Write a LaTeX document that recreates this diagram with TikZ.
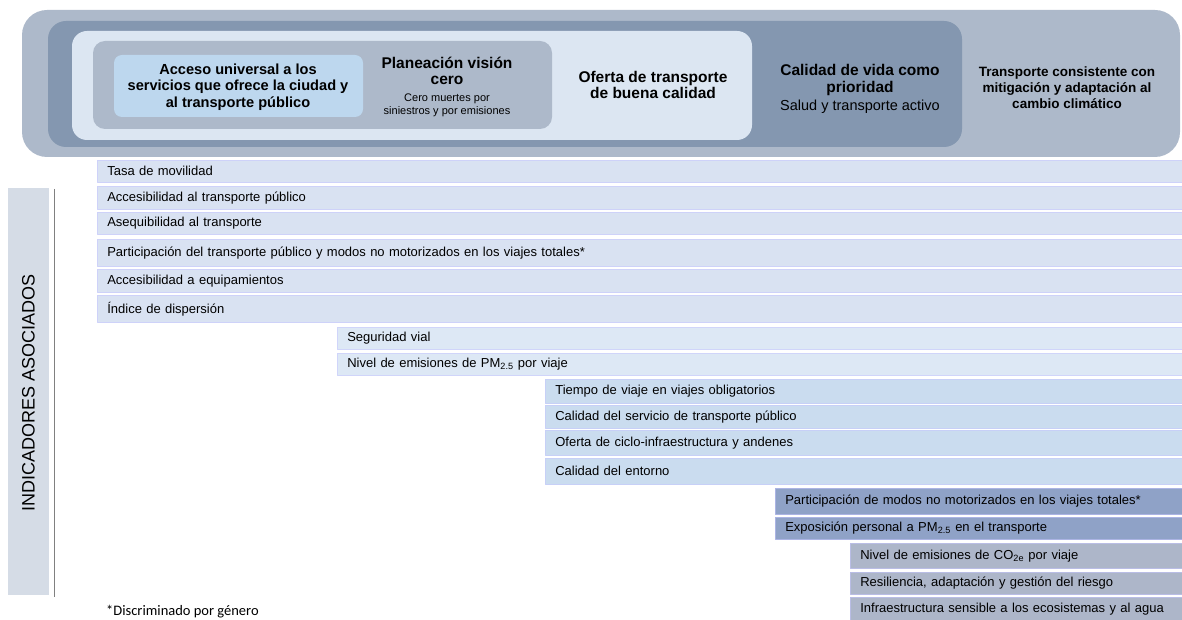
\documentclass[tikz,border=0pt]{standalone}
\usepackage{fontspec}
\setmainfont{Liberation Sans}
\newfontfamily\notefont{Carlito}
\usetikzlibrary{positioning}
\definecolor{outerbox}{HTML}{ADB9CA}
\definecolor{ringdark}{HTML}{8497B0}
\definecolor{ringlight}{HTML}{DCE6F2}
\definecolor{ringgrey}{HTML}{ADB9CA}
\definecolor{corebox}{HTML}{BDD7EE}
\definecolor{barA}{HTML}{D9E2F2}
\definecolor{barB}{HTML}{DDE8F5}
\definecolor{barC}{HTML}{CADCEF}
\definecolor{barD}{HTML}{8FA2C7}
\definecolor{barE}{HTML}{ADB6C9}
\definecolor{labelgrey}{HTML}{D5DCE6}
\begin{document}
\begin{tikzpicture}[x=1pt,y=-1pt,line join=round]
	\tikzset{head/.style={font=\bfseries\fontsize{15.5}{16.5}\selectfont,align=center,inner sep=0pt},
		sub/.style={font=\fontsize{14.5}{16}\selectfont,align=center,inner sep=0pt},
		small/.style={font=\fontsize{11}{13}\selectfont,align=center,inner sep=0pt},
		bar/.style={anchor=north west,inner xsep=10pt,inner ysep=0pt,align=left,
			font=\fontsize{13}{15}\selectfont,draw=#1!80!blue!60!white,fill=#1,line width=.6pt}}
	\useasboundingbox (0,0) rectangle (1182,620);
	% nested frames of the header
	\fill[outerbox,rounded corners=25pt] (22,10) rectangle (1180,157);
	\fill[ringdark,rounded corners=18pt] (48,21) rectangle (962,147);
	\fill[ringlight,rounded corners=15pt] (72,31) rectangle (752,140);
	\fill[ringgrey,rounded corners=12pt] (93,41) rectangle (552,129);
	\fill[corebox,rounded corners=8pt] (114,55) rectangle (363,117);
	\node[head,font=\bfseries\fontsize{14.6}{16.5}\selectfont] (acceso) at (238,87) {Acceso universal a los\\servicios que ofrece la ciudad y\\al transporte público};
	\node[head] (plan) at (447,71) {Planeación visión\\cero};
	\node[small] (plansub) at (447,105) {Cero muertes por\\siniestros y por emisiones};
	\node[head] (oferta) at (653,85) {Oferta de transporte\\de buena calidad};
	\node[head] (vida) at (860,80) {Calidad de vida como\\prioridad};
	\node[sub,below=4pt of vida] (vidasub) {Salud y transporte activo};
	\node[head,font=\bfseries\fontsize{13.5}{16}\selectfont] (clima) at (1067,88) {Transporte consistente con\\mitigación y adaptación al\\cambio climático};
	% side label
	\fill[labelgrey] (8,188) rectangle (49,595);
	\draw[gray,line width=.8pt] (54,189)--(54,597);
	\node[rotate=90,font=\fontsize{18}{20}\selectfont] (indic) at (28.5,393) {INDICADORES ASOCIADOS};
	% indicator bars
	\foreach \ytop/\ybot/\txt [count=\i] in {160/182/{Tasa de movilidad},
		186/209/{Accesibilidad al transporte público},
		212/234/{Asequibilidad al transporte},
		239/266/{Participación del transporte público y modos no motorizados en los viajes totales*},
		269/292/{Accesibilidad a equipamientos},
		295/322/{Índice de dispersión}}{
		\pgfmathsetmacro\hh{\ybot-\ytop}
		\node[bar=barA,minimum width=1085pt,text width=1065pt,minimum height=\hh pt] (ga\i) at (97,\ytop) {\txt};
	}
	\foreach \ytop/\ybot/\txt [count=\i] in {327/349/{Seguridad vial},
		353/375/{Nivel de emisiones de PM\textsubscript{2.5} por viaje}}{
		\pgfmathsetmacro\hh{\ybot-\ytop}
		\node[bar=barB,minimum width=845pt,text width=825pt,minimum height=\hh pt] (gb\i) at (337,\ytop) {\txt};
	}
	\foreach \ytop/\ybot/\txt [count=\i] in {379/403/{Tiempo de viaje en viajes obligatorios},
		405/428/{Calidad del servicio de transporte público},
		430/455/{Oferta de ciclo-infraestructura y andenes},
		458/484/{Calidad del entorno}}{
		\pgfmathsetmacro\hh{\ybot-\ytop}
		\node[bar=barC,minimum width=637pt,text width=617pt,minimum height=\hh pt] (gc\i) at (545,\ytop) {\txt};
	}
	\foreach \ytop/\ybot/\txt [count=\i] in {488/514/{Participación de modos no motorizados en los viajes totales*},
		517/539/{Exposición personal a PM\textsubscript{2.5} en el transporte}}{
		\pgfmathsetmacro\hh{\ybot-\ytop}
		\node[bar=barD,minimum width=407pt,text width=387pt,minimum height=\hh pt] (gd\i) at (775,\ytop) {\txt};
	}
	\foreach \ytop/\ybot/\txt [count=\i] in {543/568/{Nivel de emisiones de CO\textsubscript{2e} por viaje},
		572/594/{Resiliencia, adaptación y gestión del riesgo},
		597/620/{Infraestructura sensible a los ecosistemas y al agua}}{
		\pgfmathsetmacro\hh{\ybot-\ytop}
		\node[bar=barE,minimum width=332pt,text width=312pt,minimum height=\hh pt] (ge\i) at (850,\ytop) {\txt};
	}
	\node[anchor=west,inner sep=0pt,font=\notefont\fontsize{14.5}{16}\selectfont] (nota) at (106,612) {*Discriminado por género};
\end{tikzpicture}
\end{document}
